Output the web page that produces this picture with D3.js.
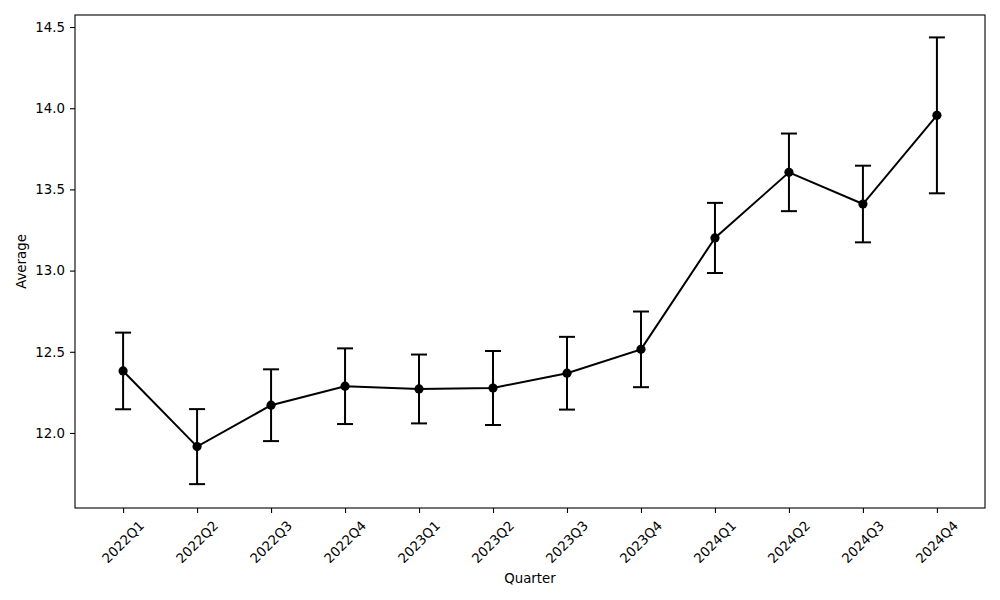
<!DOCTYPE html>
<html><head><meta charset="utf-8">
<script src="https://cdn.jsdelivr.net/npm/d3@7"></script>
<style>body{margin:0;background:#fff}svg{display:block}text{font-family:"DejaVu Sans",sans-serif;fill:#000}</style>
</head><body>
<svg id="c" width="1000" height="600"></svg>
<script>
const quarters = ["2022Q1","2022Q2","2022Q3","2022Q4","2023Q1","2023Q2","2023Q3","2023Q4","2024Q1","2024Q2","2024Q3","2024Q4"];
const averages = [12.382,11.916,12.171,12.288,12.271,12.277,12.368,12.515,13.201,13.605,13.410,13.956];
const errors   = [0.236,0.231,0.221,0.233,0.212,0.228,0.224,0.233,0.216,0.239,0.236,0.480];
const yTicks = [12.0,12.5,13.0,13.5,14.0,14.5];

const L=75,R=985,T=15,B=508;
const svg=d3.select("#c");
const x=d3.scalePoint().domain(quarters).range([L,R]).padding(0.65);
const y=d3.scaleLinear().domain([11.538,14.574]).range([B,T]);

// axes
const xa=svg.append("g").attr("transform",`translate(0,${B})`)
  .call(d3.axisBottom(x).tickSize(5).tickPadding(0).tickFormat(""));
xa.select(".domain").remove();
xa.selectAll(".tick line").attr("stroke","#000").attr("stroke-width",1.1);
svg.append("g").selectAll("text").data(quarters).join("text")
  .attr("transform",d=>`translate(${x(d)},542) rotate(-45)`)
  .attr("text-anchor","middle").attr("dy","0.35em").attr("font-size","13.33px").text(d=>d);

const ya=svg.append("g").attr("transform",`translate(${L},0)`)
  .call(d3.axisLeft(y).tickValues(yTicks).tickSize(5).tickPadding(5).tickFormat(d3.format(".1f")));
ya.select(".domain").remove();
ya.selectAll(".tick line").attr("stroke","#000").attr("stroke-width",1.1);
ya.selectAll(".tick text").attr("font-size","13.33px").attr("font-family","DejaVu Sans").attr("fill","#000");

svg.append("rect").attr("x",L).attr("y",T).attr("width",R-L).attr("height",B-T)
  .attr("fill","none").attr("stroke","#000").attr("stroke-width",1.1);

svg.append("text").attr("x",(L+R)/2).attr("y",583).attr("text-anchor","middle").attr("font-size","13.33px").text("Quarter");
svg.append("text").attr("transform",`translate(26,${(T+B)/2}) rotate(-90)`).attr("text-anchor","middle").attr("font-size","13.33px").text("Average");

const data=quarters.map((q,i)=>({q,v:averages[i],e:errors[i]}));
// line
svg.append("path").datum(data).attr("fill","none").attr("stroke","#000").attr("stroke-width",2)
  .attr("d",d3.line().x(d=>x(d.q)).y(d=>y(d.v)));
// error bars
const eb=svg.append("g").attr("stroke","#000").attr("stroke-width",2);
eb.selectAll(".v").data(data).join("line").attr("x1",d=>x(d.q)).attr("x2",d=>x(d.q))
  .attr("y1",d=>y(d.v-d.e)).attr("y2",d=>y(d.v+d.e));
eb.selectAll(".t").data(data).join("line").attr("x1",d=>x(d.q)-8).attr("x2",d=>x(d.q)+8)
  .attr("y1",d=>y(d.v+d.e)).attr("y2",d=>y(d.v+d.e));
eb.selectAll(".b").data(data).join("line").attr("x1",d=>x(d.q)-8).attr("x2",d=>x(d.q)+8)
  .attr("y1",d=>y(d.v-d.e)).attr("y2",d=>y(d.v-d.e));
// markers
svg.append("g").selectAll("circle").data(data).join("circle")
  .attr("cx",d=>x(d.q)).attr("cy",d=>y(d.v)).attr("r",4.6).attr("fill","#000");
</script>
</body></html>
